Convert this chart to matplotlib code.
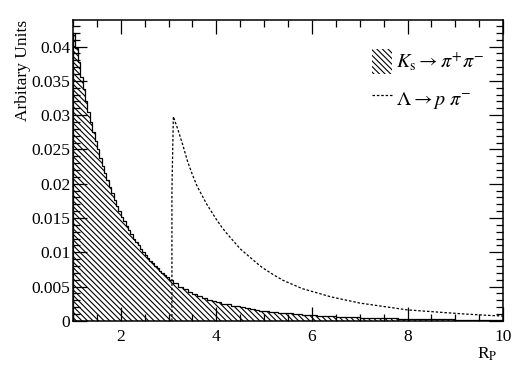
import numpy as np
import matplotlib
matplotlib.use("Agg")
import matplotlib.pyplot as plt
from matplotlib.lines import Line2D
from matplotlib.patches import Patch
from matplotlib.ticker import MultipleLocator

plt.rcParams['font.family'] = ['Liberation Serif', 'DejaVu Serif']
plt.rcParams['mathtext.fontset'] = 'stix'
plt.rcParams['hatch.linewidth'] = 0.8

# K_s -> pi+ pi- histogram: fine bins (0.05) from 1 to 3, then 0.1 bins from 3 to 10
ks_fine = [0.0420, 0.0398, 0.0378, 0.0356, 0.0338, 0.0320, 0.0304, 0.0290, 0.0276, 0.0262,
           0.0250, 0.0238, 0.0226, 0.0215, 0.0205, 0.0195, 0.0186, 0.0177, 0.0168, 0.0160,
           0.0152, 0.0145, 0.0138, 0.0132, 0.0126, 0.0120, 0.0115, 0.0110, 0.0105, 0.0100,
           0.0096, 0.0092, 0.0088, 0.0084, 0.0080, 0.0077, 0.0073, 0.0070, 0.0067, 0.0064]
ks_coarse = [0.0060, 0.0055, 0.0050, 0.0046, 0.0042, 0.0039, 0.0036, 0.0034, 0.0031, 0.0029,
             0.0027, 0.0025, 0.0024, 0.0022, 0.0021, 0.0020, 0.0019, 0.0017, 0.0016, 0.0015,
             0.0014, 0.00135, 0.0013, 0.00122, 0.00115, 0.0011, 0.00104, 0.00098, 0.00092, 0.00087,
             0.00082, 0.00078, 0.00074, 0.00070, 0.00066, 0.00063, 0.00060, 0.00057, 0.00054, 0.00051,
             0.00049, 0.00046, 0.00044, 0.00042, 0.00040, 0.00038, 0.00036, 0.00035, 0.00033, 0.00032,
             0.00030, 0.00029, 0.00028, 0.00027, 0.00026, 0.00025, 0.00024, 0.00023, 0.00022, 0.00021,
             0.00020, 0.00019, 0.00018, 0.00017, 0.00016, 0.00016, 0.00015, 0.00014, 0.00013, 0.00012]
ks_start = 1.0
ks_split = 3.0
ks_end = 10.0

# Lambda -> p pi- curve
lam_x = [3.07, 3.07, 3.10, 3.2, 3.3, 3.4, 3.5, 3.6, 3.7, 3.8, 3.9, 4.0, 4.1, 4.2, 4.3, 4.4, 4.5,
         4.6, 4.7, 4.8, 4.9, 5.0, 5.2, 5.4, 5.6, 5.8, 6.0, 6.2, 6.4, 6.6, 6.8, 7.0, 7.2, 7.4,
         7.6, 7.8, 8.0, 8.2, 8.4, 8.6, 8.8, 9.0, 9.2, 9.4, 9.6, 9.8, 10.0]
lam_y = [0.0, 0.0190, 0.0298, 0.0278, 0.0256, 0.0232, 0.0213, 0.0196, 0.0183, 0.0170, 0.0159,
         0.0148, 0.0138, 0.0129, 0.0121, 0.0113, 0.0105, 0.0099, 0.0093, 0.0087, 0.0081, 0.0076,
         0.0067, 0.0059, 0.0053, 0.0047, 0.0043, 0.0039, 0.0035, 0.0032, 0.0029, 0.0026, 0.0024,
         0.0022, 0.0020, 0.0018, 0.0016, 0.0015, 0.0014, 0.0013, 0.0012, 0.0011, 0.0010, 0.00092,
         0.00084, 0.00077, 0.00070]

y_ticks = [0, 0.005, 0.01, 0.015, 0.02, 0.025, 0.03, 0.035, 0.04]
y_tick_labels = ['0', '0.005', '0.01', '0.015', '0.02', '0.025', '0.03', '0.035', '0.04']
x_ticks = [2, 4, 6, 8, 10]
x_tick_labels = ['2', '4', '6', '8', '10']

label_ks = r'$K_{\mathrm{s}} \rightarrow \pi^{+}\pi^{-}$'
label_lam = r'$\Lambda \rightarrow p\ \pi^{-}$'

edges = np.concatenate([
    np.linspace(ks_start, ks_split, len(ks_fine) + 1)[:-1],
    np.linspace(ks_split, ks_end, len(ks_coarse) + 1),
])
ks_vals = np.array(ks_fine + ks_coarse)

fig = plt.figure(figsize=(5.29, 3.82), dpi=100)
ax = fig.add_axes([0.138, 0.160, 0.813, 0.788])

hatch = chr(92) * 6
ax.stairs(ks_vals, edges, fill=True, hatch=hatch, facecolor='none',
          edgecolor='black', linewidth=0)
ax.stairs(ks_vals, edges, fill=False, color='black', linewidth=0.9)
dash = (0, (2.0, 1.5))
ax.plot(lam_x, lam_y, color='black', linewidth=0.9, linestyle=dash)

ax.set_xlim(1, 10)
ax.set_ylim(0, 0.0439)
ax.set_xticks(x_ticks)
ax.set_xticklabels(x_tick_labels)
ax.set_yticks(y_ticks)
ax.set_yticklabels(y_tick_labels)
ax.xaxis.set_minor_locator(MultipleLocator(0.5))
ax.yaxis.set_minor_locator(MultipleLocator(0.001))
ax.tick_params(which='both', direction='in', top=True, right=True, labelsize=12.5, width=0.9)
ax.tick_params(which='major', length=10)
ax.tick_params(which='minor', length=5)
ax.tick_params(axis='x', pad=6)
ax.tick_params(axis='y', pad=2)
for s in ax.spines.values():
    s.set_linewidth(1.1)

ax.set_ylabel('Arbitary Units', fontsize=12.5, loc='top', labelpad=0)
ax.set_xlabel(r'R$_{\rm P}$', fontsize=12.5, loc='right', labelpad=0)
ax.xaxis.label.set_position((0.988, 0))

handles = [Patch(facecolor='none', edgecolor='black', hatch=hatch, linewidth=0),
           Line2D([0], [0], color='black', linewidth=0.9, linestyle=dash)]
ax.legend(handles, [label_ks, label_lam], loc='upper right', frameon=False,
          fontsize=14.5, handlelength=1.0, handleheight=1.5, handletextpad=0.2,
          labelspacing=0.6, bbox_to_anchor=(0.975, 0.93), borderaxespad=0.0)

fig.savefig('out.png', dpi=100)
